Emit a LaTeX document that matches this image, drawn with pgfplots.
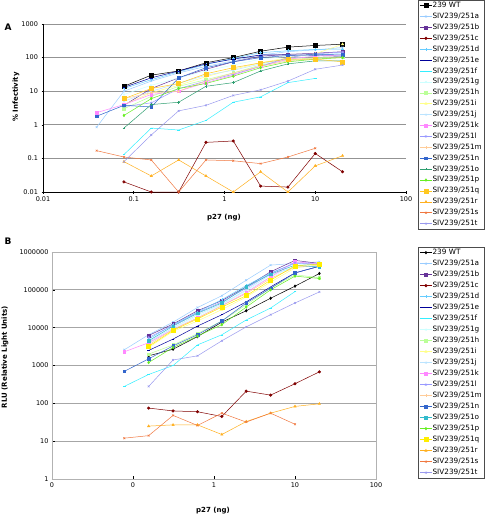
\documentclass[border=0pt]{standalone}
\usepackage{fontspec}
\setmainfont{DejaVu Sans}
\usepackage{pgfplots}
\pgfplotsset{compat=1.18}
\definecolor{cWT}{HTML}{000000}
\definecolor{ca}{HTML}{99CCFF}
\definecolor{cb}{HTML}{663399}
\definecolor{cc}{HTML}{800000}
\definecolor{cd}{HTML}{66CCFF}
\definecolor{ce}{HTML}{000099}
\definecolor{cf}{HTML}{33EEFF}
\definecolor{cg}{HTML}{CCFFFF}
\definecolor{ch}{HTML}{BBFF99}
\definecolor{ci}{HTML}{FFFF88}
\definecolor{cj}{HTML}{BBE4FF}
\definecolor{ck}{HTML}{FF88FF}
\definecolor{cl}{HTML}{9999FF}
\definecolor{cm}{HTML}{FFCC99}
\definecolor{cn}{HTML}{3366CC}
\definecolor{co}{HTML}{33BBCC}
\definecolor{coA}{HTML}{2E9E70}
\definecolor{cp}{HTML}{66EE22}
\definecolor{cq}{HTML}{FFEE00}
\definecolor{cqA}{HTML}{FFC820}
\definecolor{cr}{HTML}{FFB020}
\definecolor{cs}{HTML}{F07840}
\definecolor{ct}{HTML}{9999EE}
\tikzset{
  sWT/.style={color=cWT, mark=square*},
  sa/.style={color=ca, mark=x},
  sb/.style={color=cb, mark=square*},
  sc/.style={color=cc, mark=*},
  sd/.style={color=cd, mark=+},
  se/.style={color=ce, mark=-},
  sf/.style={color=cf, mark=-},
  sg/.style={color=cg, mark=x},
  sh/.style={color=ch, mark=square*},
  si/.style={color=ci, mark=triangle*},
  sj/.style={color=cj, mark=x},
  sk/.style={color=ck, mark=square*},
  sl/.style={color=cl, mark=asterisk},
  sm/.style={color=cm, mark=+},
  sn/.style={color=cn, mark=square*},
  so/.style={color=co, mark=-},
  sp/.style={color=cp, mark=diamond*},
  sq/.style={color=cq, mark=square*, mark size=2pt},
  sr/.style={color=cr, mark=triangle*},
  ss/.style={color=cs, mark=x},
  st/.style={color=ct, mark=x},
}
\pgfplotsset{
  every axis plot/.append style={line width=0.5pt, mark size=1.3pt, mark options={solid}},
  legend image code/.code={\draw[mark repeat=2,mark phase=2] plot coordinates {(0pt,0pt) (6pt,0pt) (12pt,0pt)};},
}
\begin{document}
\begin{tikzpicture}
\useasboundingbox (0,0) rectangle (489pt,-515pt);
% ---------------- Panel A
\begin{axis}[
  scale only axis, xmode=log, ymode=log,
  xmin=0.01, xmax=100,
  ymajorgrids, xminorticks=false, yminorticks=false,
  ticklabel style={font=\fontsize{6.5}{7}\selectfont},
  tick style={black, line width=0.5pt},
  legend cell align=left,
  at={(43pt,-192pt)}, anchor=south west,
  width=363pt, height=168pt,
  ymin=0.01, ymax=1000,
  axis x line=bottom, axis y line=left,
  axis line style={-, black, line width=0.6pt},
  xtick={0.01,0.1,1,10,100}, xticklabels={0.01,0.1,1,10,100},
  ytick={0.01,0.1,1,10,100,1000}, yticklabels={0.01,0.1,1,10,100,1000},
  major grid style={color=gray!85, line width=0.8pt},
  major tick length=3pt,
  legend style={at={(1.0331,1.1429)}, anchor=north west, draw=black!70, line width=0.4pt, fill=white,
     font=\fontsize{7.3}{7.5}\selectfont, inner sep=1.5pt, row sep=3.0pt,
     nodes={inner sep=0.4pt, text height=5.5pt, text depth=1.6pt}},
]
\addplot[sWT, mark size=2pt] coordinates {(0.078,14)(0.156,30)(0.3125,40)(0.625,70)(1.25,100)(2.5,155)(5,205)(10,230)(20,250)};
\addlegendentry{239 WT}
\addplot[sa] coordinates {(0.039,0.85)(0.078,10)(0.156,20)(0.3125,35)(0.625,55)(1.25,80)(2.5,120)(5,150)(10,170)(20,200)};
\addlegendentry{SIV239/251a}
\addplot[sb] coordinates {(0.078,3.8)(0.156,12)(0.3125,25)(0.625,45)(1.25,75)(2.5,110)(5,125)(10,135)(20,150)};
\addlegendentry{SIV239/251b}
\addplot[sc] coordinates {(0.078,0.02)(0.156,0.01)(0.3125,0.01)(0.625,0.3)(1.25,0.33)(2.5,0.015)(5,0.014)(10,0.14)(20,0.04)};
\addlegendentry{SIV239/251c}
\addplot[sd] coordinates {(0.078,12)(0.156,22)(0.3125,38)(0.625,62)(1.25,95)(2.5,140)(5,160)(10,175)(20,180)};
\addlegendentry{SIV239/251d}
\addplot[se] coordinates {(0.078,13)(0.156,25)(0.3125,40)(0.625,65)(1.25,90)(2.5,120)(5,120)(10,115)(20,110)};
\addlegendentry{SIV239/251e}
\addplot[sf] coordinates {(0.078,0.13)(0.156,0.8)(0.3125,0.7)(0.625,1.35)(1.25,4.7)(2.5,6.8)(5,18)(10,24)};
\addlegendentry{SIV239/251f}
\addplot[sg] coordinates {(0.078,8)(0.156,15)(0.3125,25)(0.625,40)(1.25,60)(2.5,90)(5,110)(10,120)(20,130)};
\addlegendentry{SIV239/251g}
\addplot[sh] coordinates {(0.078,3)(0.156,7)(0.3125,14)(0.625,22)(1.25,35)(2.5,60)(5,85)(10,100)(20,105)};
\addlegendentry{SIV239/251h}
\addplot[si] coordinates {(0.078,4)(0.156,9)(0.3125,15)(0.625,27)(1.25,45)(2.5,70)(5,100)(10,130)(20,250)};
\addlegendentry{SIV239/251i}
\addplot[sj] coordinates {(0.078,5)(0.156,10)(0.3125,17)(0.625,30)(1.25,42)(2.5,65)(5,95)(10,110)(20,140)};
\addlegendentry{SIV239/251j}
\addplot[sk] coordinates {(0.039,2.3)(0.078,4)(0.156,8)(0.3125,10)(0.625,18)(1.25,30)(2.5,55)(5,90)(10,110)(20,120)};
\addlegendentry{SIV239/251k}
\addplot[sl] coordinates {(0.078,3.5)(0.156,4.5)(0.3125,12)(0.625,20)(1.25,32)(2.5,55)(5,100)(10,130)(20,145)};
\addlegendentry{SIV239/251l}
\addplot[sm] coordinates {(0.078,6)(0.156,9)(0.3125,10)(0.625,20)(1.25,35)(2.5,55)(5,80)(10,95)(20,100)};
\addlegendentry{SIV239/251m}
\addplot[sn] coordinates {(0.039,1.8)(0.078,3.8)(0.156,3.4)(0.3125,25)(0.625,50)(1.25,75)(2.5,100)(5,115)(10,125)(20,120)};
\addlegendentry{SIV239/251n}
\addplot[so, color=coA, mark=+] coordinates {(0.078,0.8)(0.156,4)(0.3125,4.7)(0.625,14)(1.25,18)(2.5,40)(5,65)(10,80)(20,80)};
\addlegendentry{SIV239/251o}
\addplot[sp] coordinates {(0.078,1.9)(0.156,6)(0.3125,12)(0.625,17)(1.25,28)(2.5,50)(5,75)(10,90)(20,100)};
\addlegendentry{SIV239/251p}
\addplot[sq, color=cqA] coordinates {(0.078,6)(0.156,12)(0.3125,17)(0.625,33)(1.25,50)(2.5,70)(5,90)(10,90)(20,75)};
\addlegendentry{SIV239/251q}
\addplot[sr] coordinates {(0.078,0.08)(0.156,0.03)(0.3125,0.09)(0.625,0.03)(1.25,0.01)(2.5,0.04)(5,0.01)(10,0.06)(20,0.12)};
\addlegendentry{SIV239/251r}
\addplot[ss] coordinates {(0.039,0.17)(0.078,0.11)(0.156,0.09)(0.3125,0.01)(0.625,0.09)(1.25,0.085)(2.5,0.07)(5,0.11)(10,0.2)};
\addlegendentry{SIV239/251s}
\addplot[st] coordinates {(0.078,0.08)(0.156,0.5)(0.3125,2.6)(0.625,3.8)(1.25,7.5)(2.5,11)(5,20)(10,45)(20,60)};
\addlegendentry{SIV239/251t}
\end{axis}
\node[font=\bfseries\fontsize{9}{10}\selectfont, anchor=west] at (1pt,-27pt) {A};
\node[font=\bfseries\fontsize{7}{8}\selectfont, rotate=90] at (16pt,-97pt) {\% Infectivity};
\node[font=\bfseries\fontsize{7}{8}\selectfont] at (224pt,-218pt) {p27 (ng)};
% ---------------- Panel B
\begin{axis}[
  scale only axis, xmode=log, ymode=log,
  xmin=0.01, xmax=100,
  ymajorgrids, xminorticks=false, yminorticks=false,
  ticklabel style={font=\fontsize{6.5}{7}\selectfont},
  tick style={black, line width=0.5pt},
  legend cell align=left,
  at={(52pt,-479pt)}, anchor=south west,
  width=324pt, height=227pt,
  ymin=1, ymax=1000000,
  axis line style={gray!60, line width=0.6pt},
  xtick={0.01,0.1,1,10,100}, xticklabels={0,0,1,10,100},
  ytick={1,10,100,1000,10000,100000,1000000}, yticklabels={1,10,100,1000,10000,100000,1000000},
  major grid style={color=gray!70, line width=1pt},
  major tick length=3pt,
  xtick pos=bottom, ytick pos=left,
  legend style={at={(1.1296,1.022)}, anchor=north west, draw=black!70, line width=0.4pt, fill=white,
     font=\fontsize{7.3}{7.5}\selectfont, inner sep=1.5pt, row sep=3.1pt,
     nodes={inner sep=0.4pt, text height=5.5pt, text depth=1.6pt}},
]
\addplot[sWT, mark=diamond*] coordinates {(0.156,1800)(0.3125,2700)(0.625,5800)(1.25,14000)(2.5,28000)(5,60000)(10,125000)(20,270000)};
\addlegendentry{239 WT}
\addplot[sa] coordinates {(0.078,2600)(0.156,6500)(0.3125,14000)(0.625,34000)(1.25,70000)(2.5,180000)(5,450000)(10,500000)(20,550000)};
\addlegendentry{SIV239/251a}
\addplot[sb] coordinates {(0.156,6200)(0.3125,12500)(0.625,28000)(1.25,52000)(2.5,120000)(5,300000)(10,600000)(20,500000)};
\addlegendentry{SIV239/251b}
\addplot[sc] coordinates {(0.156,75)(0.3125,63)(0.625,60)(1.25,45)(2.5,210)(5,165)(10,330)(20,680)};
\addlegendentry{SIV239/251c}
\addplot[sd] coordinates {(0.156,5000)(0.3125,12000)(0.625,26000)(1.25,55000)(2.5,130000)(5,280000)(10,500000)(20,450000)};
\addlegendentry{SIV239/251d}
\addplot[se] coordinates {(0.156,2500)(0.3125,5000)(0.625,11000)(1.25,22000)(2.5,48000)(5,120000)(10,280000)(20,420000)};
\addlegendentry{SIV239/251e}
\addplot[sf] coordinates {(0.078,280)(0.156,580)(0.3125,1000)(0.625,3500)(1.25,6500)(2.5,16000)(5,33000)(10,90000)};
\addlegendentry{SIV239/251f}
\addplot[sg] coordinates {(0.156,3800)(0.3125,9500)(0.625,20000)(1.25,40000)(2.5,95000)(5,220000)(10,420000)(20,430000)};
\addlegendentry{SIV239/251g}
\addplot[sh] coordinates {(0.156,2000)(0.3125,3500)(0.625,7000)(1.25,15000)(2.5,40000)(5,110000)(10,250000)(20,210000)};
\addlegendentry{SIV239/251h}
\addplot[si] coordinates {(0.156,3000)(0.3125,8000)(0.625,15000)(1.25,30000)(2.5,65000)(5,160000)(10,380000)(20,460000)};
\addlegendentry{SIV239/251i}
\addplot[sj] coordinates {(0.156,4200)(0.3125,10000)(0.625,22000)(1.25,42000)(2.5,100000)(5,250000)(10,400000)(20,420000)};
\addlegendentry{SIV239/251j}
\addplot[sk] coordinates {(0.078,2300)(0.156,4000)(0.3125,9000)(0.625,18000)(1.25,38000)(2.5,85000)(5,220000)(10,550000)(20,480000)};
\addlegendentry{SIV239/251k}
\addplot[sl] coordinates {(0.156,5500)(0.3125,11500)(0.625,25000)(1.25,48000)(2.5,110000)(5,270000)(10,520000)(20,470000)};
\addlegendentry{SIV239/251l}
\addplot[sm] coordinates {(0.156,3500)(0.3125,9000)(0.625,18000)(1.25,38000)(2.5,80000)(5,200000)(10,400000)(20,440000)};
\addlegendentry{SIV239/251m}
\addplot[sn] coordinates {(0.078,700)(0.156,1500)(0.3125,3300)(0.625,6500)(1.25,15000)(2.5,45000)(5,110000)(10,280000)(20,420000)};
\addlegendentry{SIV239/251n}
\addplot[so, mark=square*] coordinates {(0.156,4500)(0.3125,11000)(0.625,24000)(1.25,45000)(2.5,120000)(5,260000)(10,450000)(20,400000)};
\addlegendentry{SIV239/251o}
\addplot[sp] coordinates {(0.156,1200)(0.3125,3000)(0.625,6000)(1.25,12000)(2.5,35000)(5,100000)(10,230000)(20,200000)};
\addlegendentry{SIV239/251p}
\addplot[sq] coordinates {(0.156,3200)(0.3125,8500)(0.625,17000)(1.25,35000)(2.5,70000)(5,180000)(10,430000)(20,480000)};
\addlegendentry{SIV239/251q}
\addplot[sr] coordinates {(0.156,25)(0.3125,27)(0.625,27)(1.25,15)(2.5,33)(5,55)(10,83)(20,97)};
\addlegendentry{SIV239/251r}
\addplot[ss] coordinates {(0.078,12)(0.156,14)(0.3125,48)(0.625,26)(1.25,55)(2.5,32)(5,55)(10,28)};
\addlegendentry{SIV239/251s}
\addplot[st] coordinates {(0.156,280)(0.3125,1400)(0.625,1800)(1.25,4500)(2.5,10500)(5,22000)(10,45000)(20,88000)};
\addlegendentry{SIV239/251t}
\end{axis}
\node[font=\bfseries\fontsize{9}{10}\selectfont, anchor=west] at (1pt,-241pt) {B};
\node[font=\bfseries\fontsize{7}{8}\selectfont, rotate=90] at (5pt,-357pt) {RLU (Relative Light Units)};
\node[font=\bfseries\fontsize{7}{8}\selectfont] at (213pt,-511pt) {p27 (ng)};
\end{tikzpicture}
\end{document}
